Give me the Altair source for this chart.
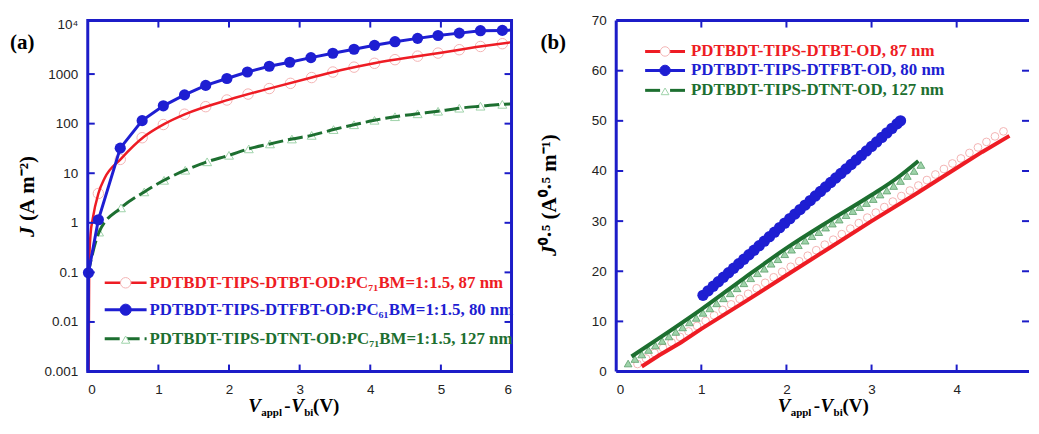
import altair as alt
import pandas as pd

# ---------------- panel (a): J vs V (log) ----------------
a_red_fit_v = [0.012, 0.02, 0.04, 0.07, 0.15, 0.24, 0.47, 0.8, 1.08, 1.38, 2.0, 2.58, 3.17, 3.64, 4.0, 4.5, 5.0, 5.5, 6.0]
a_red_fit_j = [0.001, 0.15, 0.6, 1.2, 3.9, 8.0, 19.5, 55, 98, 156, 305, 515, 850, 1250, 1600, 2100, 2700, 3500, 4400]

a_red_pts_v = [0.15, 0.46, 0.77, 1.07, 1.37, 1.67, 1.97, 2.27, 2.57, 2.87, 3.17, 3.47, 3.77, 4.06, 4.35, 4.67, 4.96, 5.26, 5.56, 5.87]
a_red_pts_j = [3.9, 19, 52, 96, 155, 220, 300, 395, 510, 650, 850, 1100, 1380, 1650, 1950, 2300, 2650, 3100, 3600, 4100]

a_blue_v = [0.01, 0.15, 0.46, 0.77, 1.07, 1.37, 1.67, 1.97, 2.26, 2.57, 2.86, 3.16, 3.47, 3.77, 4.06, 4.35, 4.67, 4.96, 5.26, 5.56, 5.87]
a_blue_j = [0.098, 1.15, 32, 115, 229, 380, 590, 815, 1100, 1440, 1730, 2150, 2630, 3160, 3800, 4500, 5250, 6000, 6700, 7500, 7600]
a_blue_line_v = [0.003] + a_blue_v + [6.0]
a_blue_line_j = [0.001] + a_blue_j + [7700]

a_green_v = [0.0, 0.16, 0.47, 0.8, 1.08, 1.38, 1.69, 2.0, 2.28, 2.58, 2.89, 3.17, 3.48, 3.77, 4.06, 4.35, 4.67, 4.96, 5.26, 5.56, 5.87, 6.0]
a_green_j = [0.09, 0.65, 2.0, 4.2, 7.2, 11.5, 17, 23, 31, 39, 49, 58, 76, 95, 117, 138, 158, 178, 205, 225, 245, 250]

a_x_ticks = [1, 2, 3, 4, 5]
a_y_ticks = [0.01, 0.1, 1, 10, 100, 1000]
a_x_labels = [0, 1, 2, 3, 4, 5, 6]
a_y_labels = [0.001, 0.01, 0.1, 1, 10, 100, 1000, 10000]
a_legend = ["PDTBDT-TIPS-DTBT-OD:PC₇₁BM=1:1.5, 87 nm",
            "PDTBDT-TIPS-DTFBT-OD:PC₆₁BM=1:1.5, 80 nm",
            "PDTBDT-TIPS-DTNT-OD:PC₇₁BM=1:1.5, 127 nm"]

# ---------------- panel (b): J^0.5 vs V ----------------
b_red_line_v = [0.30, 0.50, 0.76, 1.0, 1.5, 2.0, 2.5, 3.0, 3.5, 4.0, 4.3, 4.62]
b_red_line_y = [1.0, 3.2, 5.8, 8.5, 13.8, 19.2, 24.6, 30.0, 35.2, 40.6, 43.8, 47.0]

b_red_pts_v = [0.25, 0.35, 0.45, 0.55, 0.65, 0.75, 0.85, 0.95, 1.05, 1.15, 1.25, 1.35, 1.45, 1.55, 1.65,
               1.75, 1.85, 1.95, 2.05, 2.15, 2.25, 2.35, 2.45, 2.55, 2.65, 2.75, 2.85, 2.95, 3.05, 3.15,
               3.25, 3.35, 3.45, 3.55, 3.65, 3.75, 3.85, 3.95, 4.05, 4.15, 4.25, 4.35, 4.45, 4.55]
b_red_pts_y = [1.5, 2.6, 3.7, 4.7, 5.8, 6.9, 8.0, 9.1, 10.1, 11.2, 12.3, 13.4, 14.5, 15.5, 16.6,
               17.7, 18.8, 19.9, 20.9, 22.0, 23.1, 24.2, 25.3, 26.3, 27.4, 28.5, 29.6, 30.7, 31.7, 32.8,
               33.9, 35.0, 36.1, 37.1, 38.2, 39.3, 40.4, 41.5, 42.5, 43.6, 44.7, 45.8, 46.9, 47.9]

b_blue_v = [1.02, 1.08, 1.14, 1.20, 1.26, 1.32, 1.38, 1.44, 1.50, 1.56, 1.62, 1.68, 1.74, 1.80, 1.86,
            1.92, 1.98, 2.04, 2.10, 2.16, 2.22, 2.28, 2.34, 2.40, 2.46, 2.52, 2.58, 2.64, 2.70, 2.76,
            2.82, 2.88, 2.94, 3.00, 3.06, 3.12, 3.18, 3.24, 3.30, 3.34]
b_blue_y = [15.2, 16.1, 17.0, 17.9, 18.8, 19.7, 20.6, 21.5, 22.4, 23.3, 24.2, 25.1, 26.0, 26.9, 27.8,
            28.7, 29.6, 30.5, 31.4, 32.3, 33.2, 34.1, 35.0, 35.9, 36.8, 37.7, 38.6, 39.5, 40.4, 41.3,
            42.2, 43.1, 44.0, 44.9, 45.8, 46.7, 47.6, 48.5, 49.4, 50.0]

b_green_line_v = [0.18, 0.5, 1.0, 1.5, 2.0, 2.5, 3.0, 3.3, 3.55]
b_green_line_y = [3.0, 6.6, 12.4, 18.6, 24.6, 30.0, 35.2, 38.6, 42.0]

b_green_pts_v = [0.14, 0.22, 0.30, 0.38, 0.46, 0.54, 0.62, 0.70, 0.78, 0.86, 0.94, 1.02, 1.10, 1.18, 1.26,
                 1.34, 1.42, 1.50, 1.58, 1.66, 1.74, 1.82, 1.90, 1.98, 2.06, 2.14, 2.22, 2.30, 2.38, 2.46,
                 2.54, 2.62, 2.70, 2.78, 2.86, 2.94, 3.02, 3.10, 3.18, 3.26, 3.34, 3.42, 3.50, 3.58]
b_green_pts_y = [1.6, 2.5, 3.4, 4.3, 5.2, 6.1, 7.0, 7.9, 8.8, 9.8, 10.7, 11.7, 12.6, 13.6, 14.6,
                 15.6, 16.6, 17.6, 18.6, 19.6, 20.5, 21.5, 22.4, 23.4, 24.3, 25.2, 26.1, 27.0, 27.8, 28.7,
                 29.5, 30.3, 31.2, 32.0, 32.8, 33.6, 34.4, 35.3, 36.1, 37.0, 38.0, 39.0, 40.0, 41.2]

b_x_ticks = [1, 2, 3, 4]
b_y_ticks = [10, 20, 30, 40, 50, 60]
b_x_labels = [0, 1, 2, 3, 4]
b_y_labels = [0, 10, 20, 30, 40, 50, 60, 70]
b_legend = ["PDTBDT-TIPS-DTBT-OD, 87 nm",
            "PDTBDT-TIPS-DTFBT-OD, 80 nm",
            "PDTBDT-TIPS-DTNT-OD, 127 nm"]

# ---------------- styles ----------------
FRAME = "#1c1cc8"
RED = "#ee1c24"
BLUE = "#1e1ed2"
GREEN = "#1d6f30"
PINK = "#f3b4b4"
LGREEN = "#9fd3aa"
SERIF = "Liberation Serif"
SANS = "Liberation Sans"
WA, WB, H = 425, 414, 352
ONE = pd.DataFrame({"k": [0]})
NB = "\u00a0"
LEGFS = 16.9

axc = dict(grid=False, domain=False, ticks=False, tickSize=0, title=None,
           labelFont=SANS, labelFontSize=13.5, labelColor="#222")


def txt(text, x, y, size=16, color="black", align="left", baseline="middle", angle=0, style="normal"):
    return alt.Chart(ONE).mark_text(text=text, font=SERIF, fontWeight="bold", fontSize=size, color=color,
                                    align=align, baseline=baseline, angle=angle, fontStyle=style).encode(
        x=alt.value(x), y=alt.value(y))


def hline(x1, x2, y, color, width=2.5, dash=None):
    kw = dict(color=color, strokeWidth=width)
    if dash:
        kw["strokeDash"] = dash
    return alt.Chart(ONE).mark_rule(**kw).encode(x=alt.value(x1), x2=alt.value(x2), y=alt.value(y))


def vline(x, y1, y2, color, width=3):
    return alt.Chart(ONE).mark_rule(color=color, strokeWidth=width).encode(
        x=alt.value(x), y=alt.value(y1), y2=alt.value(y2))


def sym(x, y, shape, size, fill, stroke, sw=1.0, filled=True):
    return alt.Chart(ONE).mark_point(shape=shape, size=size, filled=filled, fill=fill, stroke=stroke,
                                     strokeWidth=sw, opacity=1).encode(x=alt.value(x), y=alt.value(y))


def frame(w):
    return alt.Chart(ONE).mark_rect(filled=False, stroke=FRAME, strokeWidth=3).encode(
        x=alt.value(0), x2=alt.value(w), y=alt.value(0), y2=alt.value(H))


def xtitle(cx):
    s = cx - 50
    base, sub = 393, 397
    return [txt("V", s, base, 19, baseline="alphabetic", style="italic"),
            txt("appl", s + 13, sub, 11, baseline="alphabetic"),
            txt("-", s + 36, base, 19, baseline="alphabetic"),
            txt("V", s + 43, base, 19, baseline="alphabetic", style="italic"),
            txt("bi", s + 56, sub, 11, baseline="alphabetic"),
            txt(NB + "(V)", s + 65, base, 19, baseline="alphabetic")]


# ---------------- panel (a) ----------------
XA = alt.X("v:Q", scale=alt.Scale(domain=[0, 6], nice=False, zero=False),
           axis=alt.Axis(values=a_x_labels, labelPadding=11, **axc))
YA = alt.Y("j:Q", scale=alt.Scale(type="log", domain=[0.001, 12000], nice=False),
           axis=alt.Axis(values=a_y_labels, labelPadding=10,
                         labelExpr="datum.value >= 10000 ? '10⁴' : datum.value >= 1 ? format(datum.value, 'd') : format(datum.value, '.3~f')",
                         **axc))

a_red_pts = alt.Chart(pd.DataFrame({"v": a_red_pts_v, "j": a_red_pts_j})).mark_point(
    shape="circle", size=110, filled=False, stroke=PINK, strokeWidth=1, opacity=1).encode(x=XA, y=YA)
a_green_pts = alt.Chart(pd.DataFrame({"v": a_green_v[1:-1], "j": a_green_j[1:-1]})).mark_point(
    shape="triangle-up", size=80, filled=False, stroke=LGREEN, strokeWidth=1, opacity=1).encode(x=XA, y=YA)
a_red_line = alt.Chart(pd.DataFrame({"v": a_red_fit_v, "j": a_red_fit_j})).mark_line(
    color=RED, strokeWidth=2.5, interpolate="monotone").encode(x=XA, y=YA)
a_green_line = alt.Chart(pd.DataFrame({"v": a_green_v, "j": a_green_j})).mark_line(
    color=GREEN, strokeWidth=3, strokeDash=[15, 5], interpolate="monotone").encode(x=XA, y=YA)
a_blue_line = alt.Chart(pd.DataFrame({"v": a_blue_line_v, "j": a_blue_line_j})).mark_line(
    color=BLUE, strokeWidth=3).encode(x=XA, y=YA)
a_blue_pts = alt.Chart(pd.DataFrame({"v": a_blue_v, "j": a_blue_j})).mark_point(
    shape="circle", size=125, filled=True, color=BLUE, opacity=1).encode(x=XA, y=YA)

axd = pd.DataFrame({"v": a_x_ticks})
ayd = pd.DataFrame({"j": a_y_ticks})
a_ticks = [
    alt.Chart(axd).mark_rule(color=FRAME, strokeWidth=2).encode(x=XA, y=alt.value(H), y2=alt.value(H - 7)),
    alt.Chart(axd).mark_rule(color=FRAME, strokeWidth=2).encode(x=XA, y=alt.value(0), y2=alt.value(7)),
    alt.Chart(ayd).mark_rule(color=FRAME, strokeWidth=2).encode(y=YA, x=alt.value(0), x2=alt.value(7)),
    alt.Chart(ayd).mark_rule(color=FRAME, strokeWidth=2).encode(y=YA, x=alt.value(WA - 7), x2=alt.value(WA)),
]

ly = [263, 290, 319]
a_leg = [
    hline(17, 59, ly[0], RED, 2.5), sym(38, ly[0], "circle", 110, "white", PINK, 1, filled=False),
    hline(17, 59, ly[1], BLUE, 3), sym(38, ly[1], "circle", 125, BLUE, BLUE),
    hline(17, 59, ly[2], GREEN, 3, [15, 5]), sym(38, ly[2] + 1, "triangle-up", 70, "white", LGREEN, 1, filled=False),
    txt(a_legend[0], 62, ly[0], LEGFS, RED),
    txt(a_legend[1], 62, ly[1], LEGFS, BLUE),
    txt(a_legend[2], 62, ly[2], LEGFS, GREEN),
]

a_titles = [
    txt("(a)", -78, 23, 21),
    txt("J", -60, 217, 21, angle=270, style="italic"),
    txt("(A" + NB + "m⁻²)", -60, 201, 21, angle=270),
] + xtitle(211)

panel_a = alt.layer(a_red_pts, a_green_pts, a_red_line, a_green_line, a_blue_line, a_blue_pts,
                    *a_ticks, frame(WA), *a_leg, *a_titles).properties(width=WA, height=H)

# ---------------- panel (b) ----------------
XB = alt.X("v:Q", scale=alt.Scale(domain=[0, 4.85], nice=False, zero=False),
           axis=alt.Axis(values=b_x_labels, labelPadding=11, **axc))
YB = alt.Y("y:Q", scale=alt.Scale(domain=[0, 70], nice=False),
           axis=alt.Axis(values=b_y_labels, labelPadding=10, **axc))

b_red_pts = alt.Chart(pd.DataFrame({"v": b_red_pts_v, "y": b_red_pts_y})).mark_point(
    shape="circle", size=60, filled=False, stroke=PINK, strokeWidth=1, opacity=1).encode(x=XB, y=YB)
b_red_line = alt.Chart(pd.DataFrame({"v": b_red_line_v, "y": b_red_line_y})).mark_line(
    color=RED, strokeWidth=4).encode(x=XB, y=YB)
b_green_pts = alt.Chart(pd.DataFrame({"v": b_green_pts_v, "y": b_green_pts_y})).mark_point(
    shape="triangle-up", size=60, filled=True, fill=LGREEN, stroke="#5a9e6a", strokeWidth=0.8, opacity=1
).encode(x=XB, y=YB)
b_green_line = alt.Chart(pd.DataFrame({"v": b_green_line_v, "y": b_green_line_y})).mark_line(
    color=GREEN, strokeWidth=4, interpolate="monotone").encode(x=XB, y=YB)
b_blue_pts = alt.Chart(pd.DataFrame({"v": b_blue_v, "y": b_blue_y})).mark_point(
    shape="circle", size=130, filled=True, color=BLUE, opacity=1).encode(x=XB, y=YB)

bxd = pd.DataFrame({"v": b_x_ticks})
byd = pd.DataFrame({"y": b_y_ticks})
b_ticks = [
    alt.Chart(bxd).mark_rule(color=FRAME, strokeWidth=2).encode(x=XB, y=alt.value(H), y2=alt.value(H - 7)),
    alt.Chart(bxd).mark_rule(color=FRAME, strokeWidth=2).encode(x=XB, y=alt.value(0), y2=alt.value(7)),
    alt.Chart(byd).mark_rule(color=FRAME, strokeWidth=2).encode(y=YB, x=alt.value(0), x2=alt.value(7)),
    alt.Chart(byd).mark_rule(color=FRAME, strokeWidth=2).encode(y=YB, x=alt.value(WB - 7), x2=alt.value(WB)),
]
# frame of panel (b): its right side lies beyond the cropped picture
b_frame = [hline(0, WB, 0, FRAME, 3), hline(0, WB, H, FRAME, 3), vline(0, 0, H, FRAME, 3)]

my = [31, 50, 70]
b_leg = [
    hline(29, 69, my[0], RED, 3), sym(49, my[0], "circle", 90, "white", PINK, 1, filled=False),
    hline(29, 69, my[1], BLUE, 3), sym(49, my[1], "circle", 110, BLUE, BLUE),
    hline(29, 44, my[2], GREEN, 3), hline(54, 69, my[2], GREEN, 3),
    sym(49, my[2] + 1, "triangle-up", 60, "white", LGREEN, 1, filled=False),
    txt(b_legend[0], 75, my[0], LEGFS, RED),
    txt(b_legend[1], 75, my[1], LEGFS, BLUE),
    txt(b_legend[2], 75, my[2], LEGFS, GREEN),
]

b_titles = [
    txt("(b)", -76, 23, 21),
    txt("J", -66, 236, 21, angle=270, style="italic"),
    txt("⁰·⁵" + NB + "(A⁰·⁵" + NB + "m⁻¹)", -66, 225, 21, angle=270),
] + xtitle(212)

panel_b = alt.layer(b_red_pts, b_green_pts, b_red_line, b_green_line, b_blue_pts,
                    *b_ticks, *b_frame, *b_leg, *b_titles).properties(width=WB, height=H)

chart = alt.hconcat(panel_a, panel_b, spacing=105, bounds="flush").properties(
    padding={"left": 2, "top": 5, "right": 0, "bottom": 0}
).configure_view(strokeWidth=0)

chart.save("out.html", embed_options={"renderer": "svg", "actions": False})
